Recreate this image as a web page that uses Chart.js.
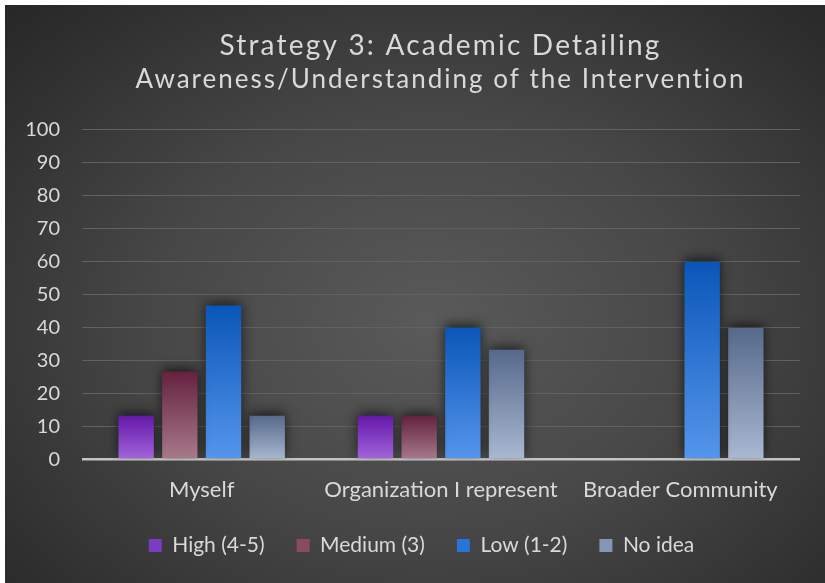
<!DOCTYPE html>
<html>
<head>
<meta charset="utf-8">
<script src="https://cdn.jsdelivr.net/npm/chart.js@4/dist/chart.umd.min.js"></script>
<style>
  body { margin: 0; background: #ffffff; overflow: hidden; }
  #tarjeta {
    position: absolute; left: 5px; top: 5px; width: 820px; height: 578px;
    background: radial-gradient(ellipse 75% 80% at 52% 55%, #5a5a5a 0%, #474747 45%, #2e2e2e 85%, #262626 100%);
  }
</style>
</head>
<body>
<div id="tarjeta"><canvas id="grafica" width="820" height="578"></canvas></div>
<script>
// datos
const categorias = ["Myself", "Organization I represent", "Broader Community"];
const series = ["High (4-5)", "Medium (3)", "Low (1-2)", "No idea"];
const alto = [13.3, 13.3, 0];
const medio = [26.7, 13.3, 0];
const bajo = [46.7, 40, 60];
const sinIdea = [13.3, 33.3, 40];
const ticksY = [0, 10, 20, 30, 40, 50, 60, 70, 80, 90, 100];

const titulo = "Strategy 3: Academic Detailing";
const subtitulo = "Awareness/Understanding of the Intervention";

// color arriba, color abajo, color de leyenda
const colores = [
  ["#6418a8", "#a266dc", "#7a3cc0"],
  ["#64223e", "#a87a8c", "#8a4a62"],
  ["#0a56b8", "#5596ec", "#2a74d8"],
  ["#56698a", "#a9b9d2", "#8496b4"],
];

const gradiente = (arriba, abajo) => (ctx) => {
  const chart = ctx.chart;
  if (!chart.chartArea || ctx.type !== "data" || !chart.scales.y) return abajo;
  const y = chart.scales.y.getPixelForValue(ctx.raw);
  const base = chart.scales.y.getPixelForValue(0);
  if (base - y < 1) return arriba;
  const g = chart.ctx.createLinearGradient(0, y, 0, base);
  g.addColorStop(0, arriba);
  g.addColorStop(1, abajo);
  return g;
};

const armarSerie = (i, valores) => ({
  label: series[i],
  data: valores,
  backgroundColor: gradiente(colores[i][0], colores[i][1]),
  borderWidth: 0,
  barPercentage: 0.81,
  categoryPercentage: 0.73,
});

const sombra = {
  id: "sombra",
  beforeDatasetsDraw(chart) {
    const c = chart.ctx;
    c.save();
    c.shadowColor = "rgba(0,0,0,0.65)";
    c.shadowBlur = 12;
    c.shadowOffsetY = -3;
  },
  afterDatasetsDraw(chart) {
    chart.ctx.restore();
  },
};

// mueve titulos y leyenda como en la imagen, y espacia las letras del titulo
const ajustes = {
  id: "ajustes",
  afterLayout(chart) {
    chart.boxes.forEach((b) => {
      if (b === chart.legend) {
        b.left += 19; b.right += 19;
        b.top -= 9; b.bottom -= 9;
      } else if (b.options && "text" in b.options && b.position === "top") {
        b.left += 38; b.right += 38;
        if (!b._espaciado) {
          const dibujar = b.draw.bind(b);
          const esp = b.options.text === titulo ? "2.2px" : "2px";
          b.draw = () => {
            chart.ctx.letterSpacing = esp;
            dibujar();
            chart.ctx.letterSpacing = "0px";
          };
          b._espaciado = true;
        }
      }
    });
  },
};

const fuente = "Lato";
const colorTexto = "#d9d9d9";

new Chart("grafica", {
  type: "bar",
  data: {
    labels: categorias,
    datasets: [
      armarSerie(0, alto),
      armarSerie(1, medio),
      armarSerie(2, bajo),
      armarSerie(3, sinIdea),
    ],
  },
  options: {
    responsive: false,
    animation: false,
    layout: { padding: { left: 0, right: 25, top: 0, bottom: 8 } },
    plugins: {
      title: {
        display: true,
        text: titulo,
        color: colorTexto,
        font: { family: fuente, size: 28, weight: "normal" },
        padding: { top: 24, bottom: 0 },
      },
      subtitle: {
        display: true,
        text: subtitulo,
        color: colorTexto,
        font: { family: fuente, size: 26, weight: "normal" },
        padding: { top: 1, bottom: 35 },
      },
      legend: {
        position: "bottom",
        labels: {
          color: colorTexto,
          font: { family: fuente, size: 21 },
          boxWidth: 13,
          boxHeight: 13,
          padding: 32,
          generateLabels: () =>
            series.map((s, i) => ({
              text: s,
              fillStyle: colores[i][2],
              strokeStyle: colores[i][2],
              lineWidth: 0,
              fontColor: colorTexto,
              datasetIndex: i,
            })),
        },
      },
      tooltip: { enabled: false },
    },
    scales: {
      x: {
        grid: { display: false },
        border: { display: false },
        ticks: {
          color: colorTexto,
          font: { family: fuente, size: 22 },
          padding: 9,
          maxRotation: 0,
          minRotation: 0,
          autoSkip: false,
        },
      },
      y: {
        min: 0,
        max: 100,
        afterBuildTicks: (eje) => {
          eje.ticks = ticksY.map((v) => ({ value: v }));
        },
        afterFit: (eje) => {
          eje.width = 77;
        },
        border: { display: false },
        grid: {
          drawTicks: false,
          color: (c) => (c.tick && c.tick.value === 0 ? "#c4c4c4" : "#616161"),
          lineWidth: (c) => (c.tick && c.tick.value === 0 ? 2.5 : 1),
        },
        ticks: { color: colorTexto, font: { family: fuente, size: 20 }, padding: 22 },
      },
    },
  },
  plugins: [sombra, ajustes],
});
</script>
</body>
</html>
